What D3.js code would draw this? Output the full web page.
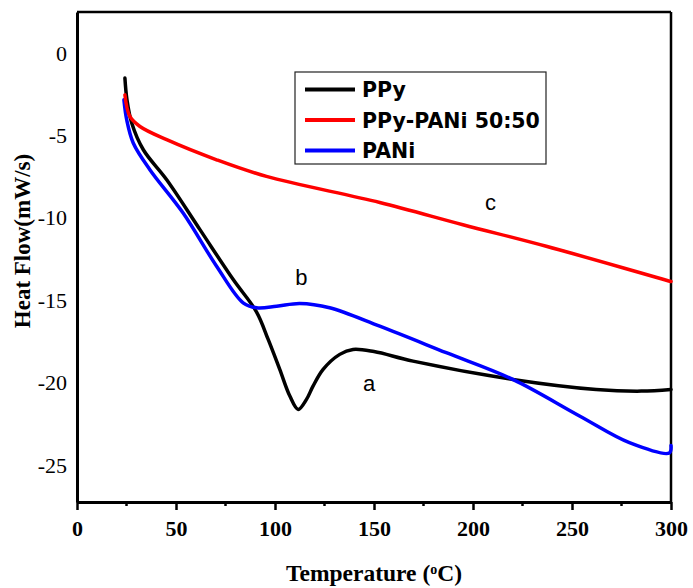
<!DOCTYPE html>
<html>
<head>
<meta charset="utf-8">
<script src="https://cdn.jsdelivr.net/npm/d3@7"></script>
<style>
  body { margin: 0; background: #fff; }
</style>
</head>
<body>
<div id="chart"></div>
<script>
// DATA //

// PPy (curve a)
const ppyT = [24.2, 25.2, 27.6, 33.5, 45.3, 62.1, 78.9, 90.7, 96.5, 102.4, 107.5, 111.7, 115.9, 119.2, 124.3, 132.7, 139.4, 150, 169.7, 220.1, 262.2, 285, 300];
const ppyH = [-1.65, -2.93, -4.36, -6.0, -7.82, -10.85, -13.88, -15.85, -17.5, -19.33, -20.95, -21.76, -21.15, -20.35, -19.33, -18.42, -18.12, -18.25, -18.83, -19.94, -20.55, -20.65, -20.55];

// PPy-PANi 50:50 (curve c)
const blendT = [24.2, 26.7, 31.8, 45.3, 70.5, 95.7, 152.9, 194.9, 237.0, 300];
const blendH = [-2.67, -3.98, -4.59, -5.39, -6.61, -7.62, -9.2, -10.55, -11.86, -14.0];

// PANi (curve b)
const paniT = [23.7, 25.1, 28.4, 36.8, 53.6, 70.5, 83.9, 90.7, 100.8, 112.5, 127.6, 152.9, 186.5, 220.1, 253.8, 279.0, 299.2, 300];
const paniH = [-2.97, -4.18, -5.59, -7.21, -9.84, -13.07, -15.29, -15.59, -15.5, -15.33, -15.59, -16.71, -18.32, -19.94, -22.16, -23.78, -24.4, -23.95];

const seriesNames = ["PPy", "PPy-PANi 50:50", "PANi"];
const seriesColors = ["#000000", "#ff0000", "#0000ff"];

const xTicks = [0, 50, 100, 150, 200, 250, 300];
const xMinor = [25, 75, 125, 175, 225, 275];
const yTicks = [0, -5, -10, -15, -20, -25];

// curve letters: [label, temperature, heat flow]
const letters = [["a", 147.5, -20.65], ["b", 113.3, -14.22], ["c", 208.8, -9.64]];

// DIMENSIONS //

let margin = {top: 12, right: 22, bottom: 86, left: 77},
    width = 693 - margin.left - margin.right,
    height = 588 - margin.top - margin.bottom;

let svg = d3.select("#chart")
    .append("svg")
    .attr("width", 693)
    .attr("height", 588)
    .append("g")
    .attr("transform", "translate(" + margin.left + "," + margin.top + ")");

let xScale = d3.scaleLinear().domain([0, 300]).range([0, width]);
let yScale = d3.scaleLinear().domain([-27.38, 2.36]).range([height, 0]);

// X AXIS //

let xAxis = svg.append("g")
    .attr("transform", "translate(0," + height + ")")
    .call(d3.axisBottom(xScale).tickValues(xTicks).tickSize(8).tickSizeOuter(0).tickPadding(10));
xAxis.select(".domain").attr("stroke-width", 3);
xAxis.selectAll(".tick line").attr("stroke-width", 2.5);
xAxis.selectAll(".tick text")
    .attr("font-family", "Liberation Serif, Times New Roman, serif")
    .attr("font-weight", "bold")
    .attr("font-size", 22);

svg.append("g")
    .attr("transform", "translate(0," + height + ")")
    .selectAll("line")
    .data(xMinor)
    .enter()
    .append("line")
    .attr("x1", d => xScale(d)).attr("x2", d => xScale(d))
    .attr("y1", 0).attr("y2", 4)
    .attr("stroke", "#000")
    .attr("stroke-width", 2.5);

// Y AXIS //

let yAxis = svg.append("g")
    .call(d3.axisLeft(yScale).tickValues(yTicks).tickFormat(d => String(d)).tickSize(0).tickSizeOuter(0).tickPadding(10));
yAxis.select(".domain").attr("stroke-width", 3);
yAxis.selectAll(".tick text")
    .attr("font-family", "Liberation Serif, Times New Roman, serif")
    .attr("font-size", 22)
    .attr("dy", "0.42em");

// frame top and right
svg.append("line").attr("x1", 0).attr("x2", width).attr("y1", 0).attr("y2", 0)
    .attr("stroke", "#000").attr("stroke-width", 2.5);
svg.append("line").attr("x1", width).attr("x2", width).attr("y1", 0).attr("y2", height)
    .attr("stroke", "#000").attr("stroke-width", 2.5);

// axis titles
svg.append("text")
    .attr("x", width / 2)
    .attr("y", height + 79)
    .attr("text-anchor", "middle")
    .attr("font-family", "Liberation Serif, Times New Roman, serif")
    .attr("font-weight", "bold")
    .attr("font-size", 23.5)
    .html('Temperature (<tspan baseline-shift="super" font-size="14">o</tspan>C)');

svg.append("text")
    .attr("transform", "translate(" + (-47) + "," + (229) + ") rotate(-90)")
    .attr("text-anchor", "middle")
    .attr("font-family", "Liberation Serif, Times New Roman, serif")
    .attr("font-weight", "bold")
    .attr("font-size", 23)
    .text("Heat Flow(mW/s)");

// LINES //

let line = d3.line()
    .x(d => xScale(d[0]))
    .y(d => yScale(d[1]))
    .curve(d3.curveCatmullRom.alpha(0.5));

let series = [
    d3.zip(ppyT, ppyH),
    d3.zip(blendT, blendH),
    d3.zip(paniT, paniH)
];

// black first, coloured lines over it
[0, 2, 1].forEach(i => {
    svg.append("path")
        .datum(series[i])
        .attr("d", line)
        .attr("fill", "none")
        .attr("stroke", seriesColors[i])
        .attr("stroke-width", 3.5)
        .attr("stroke-linejoin", "round")
        .attr("stroke-linecap", "round");
});

// letters
svg.selectAll(".letter")
    .data(letters)
    .enter()
    .append("text")
    .attr("x", d => xScale(d[1]))
    .attr("y", d => yScale(d[2]))
    .attr("text-anchor", "middle")
    .attr("font-family", "Liberation Sans, Arial, sans-serif")
    .attr("font-size", 22)
    .text(d => d[0]);

// LEGEND //

let legend = svg.append("g").attr("transform", "translate(" + (295 - margin.left) + "," + (72 - margin.top) + ")");
legend.append("rect")
    .attr("width", 251).attr("height", 92)
    .attr("fill", "#fff").attr("stroke", "#222").attr("stroke-width", 1.2);

seriesNames.forEach((name, i) => {
    let yy = 17.5 + i * 30.5;
    legend.append("line")
        .attr("x1", 10).attr("x2", 60).attr("y1", yy).attr("y2", yy)
        .attr("stroke", seriesColors[i]).attr("stroke-width", 4);
    legend.append("text")
        .attr("x", 67).attr("y", yy + 7.5)
        .attr("font-family", "DejaVu Sans, Verdana, sans-serif")
        .attr("font-weight", "bold")
        .attr("font-size", 20.5)
        .text(name);
});
</script>
</body>
</html>
